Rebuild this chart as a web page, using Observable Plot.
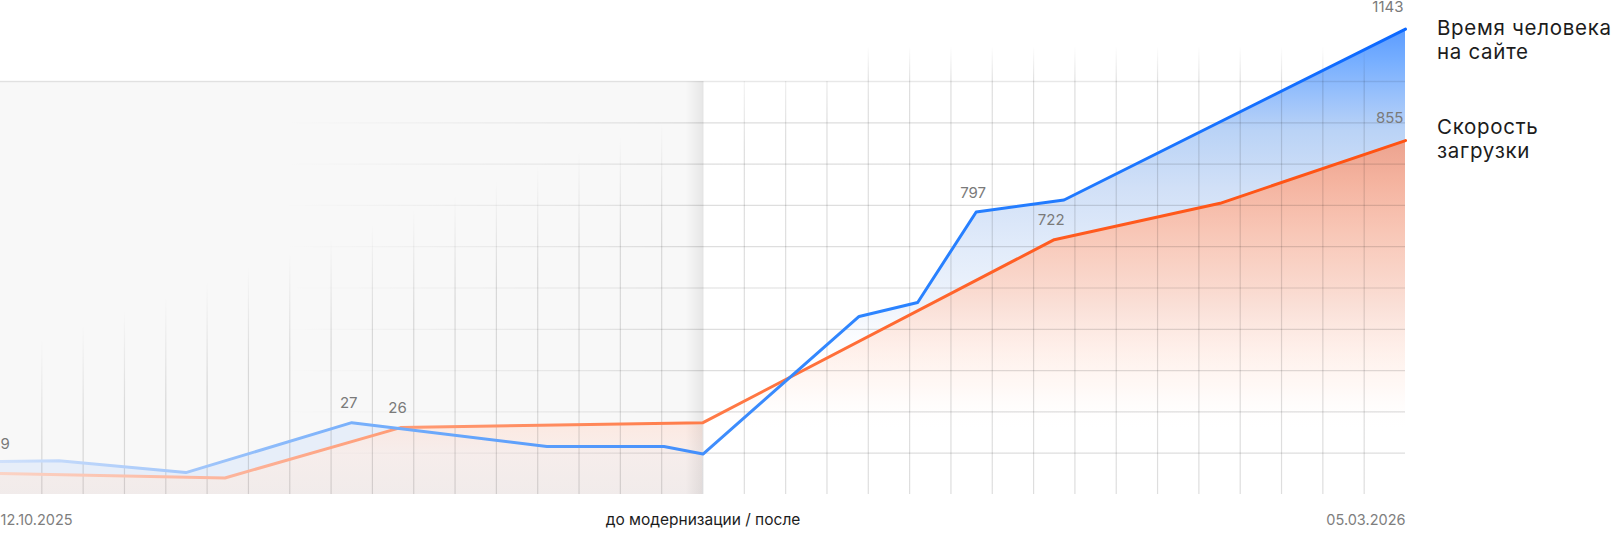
<!DOCTYPE html>
<html>
<head>
<meta charset="utf-8">
<script src="https://cdn.jsdelivr.net/npm/d3@7"></script>
<script src="https://cdn.jsdelivr.net/npm/@observablehq/plot@0.6"></script>
<style>
  body { margin: 0; background: #fff; }
  #wrap { position: relative; width: 1623px; height: 538px; font-family: Inter, "Noto Sans", sans-serif; }
  .legend { position: absolute; left: 1437px; font-size: 20.5px; letter-spacing: 0.7px; line-height: 24px; color: #1c1c1c; white-space: nowrap; }
</style>
</head>
<body>
<div id="wrap">
  <div class="legend" id="lg1" style="top:16px">Время человека<br>на сайте</div>
  <div class="legend" id="lg2" style="top:115px">Скорость<br>загрузки</div>
</div>
<script>
// ---- data ----
const blueDates  = ["2025-10-12","2025-10-18","2025-10-31","2025-11-17","2025-12-07","2025-12-19","2025-12-23","2026-01-08","2026-01-14","2026-01-20","2026-01-29","2026-03-05"];
const blueValues = [80, 82, 53, 174, 116, 116, 98, 431, 465, 684, 713, 1127];
const orangeDates  = ["2025-10-12","2025-11-04","2025-11-22","2025-12-23","2026-01-28","2026-02-14","2026-03-05"];
const orangeValues = [51, 40, 162, 174, 617, 705, 857];
const blueLabelIndex = [0, 3, 9, 11];
const blueLabelText  = ["9", "27", "797", "1143"];
const orangeLabelIndex = [2, 4, 6];
const orangeLabelText  = ["26", "722", "855"];
const xTickDates  = ["2025-10-12", "2025-12-23", "2026-03-05"];
const xTickLabels = ["12.10.2025", "до модернизации / после", "05.03.2026"];
const yTicks = [100, 200, 300, 400, 500, 600, 700, 800, 900, 1000];
const legendNames = ["Время человека на сайте", "Скорость загрузки"];

// ---- build ----
const parse = s => new Date(s + "T00:00:00Z");
const blue = blueDates.map((d, i) => ({date: parse(d), value: blueValues[i]}));
const orange = orangeDates.map((d, i) => ({date: parse(d), value: orangeValues[i]}));
const start = parse(xTickDates[0]), split = parse(xTickDates[1]), end = parse(xTickDates[2]);
const nCols = 34;
const gridIdx = d3.range(1, nCols);
const colDate = i => new Date(+start + (end - start) * i / nCols);
const gridLeft = gridIdx.filter(i => i < nCols / 2).map(colDate);
const gridRight = gridIdx.filter(i => i > nCols / 2).map(colDate);
const gridTop = gridIdx.filter(i => i >= 21).map(colDate);
const blueLeft = blue.filter(d => d.date <= split);
const orangeLeft = orange.filter(d => d.date <= split);
const labels = [
  ...blueLabelIndex.map((k, i) => ({...blue[k], text: blueLabelText[i], k, n: blue.length})),
  ...orangeLabelIndex.map((k, i) => ({...orange[k], text: orangeLabelText[i], k, n: orange.length}))
];
const shadowW = (end - start) / nCols * 0.42;
const panel = [{a: start, b: split}];
const shadow = [{a: new Date(+split - shadowW), b: split}];
const hRules = yTicks.filter(v => v < 1000).map(v => ({v, a: start, b: end}));
const topRule = [{v: 1000, a: start, b: end}];
const font = 'Inter, "Noto Sans", sans-serif';

const plot = Plot.plot({
  width: 1623, height: 538,
  marginLeft: 0, marginRight: 218, marginTop: 81, marginBottom: 44,
  x: {type: "utc", domain: [start, end], axis: null},
  y: {domain: [0, 1000], axis: null},
  style: {fontFamily: font, background: "transparent", overflow: "visible"},
  marks: [
    Plot.rect(panel, {x1: "a", x2: "b", y1: 0, y2: 1000, fill: "#f8f8f8"}),
    Plot.areaY(blue, {x: "date", y: "value", fill: "url(#blueFill)"}),
    Plot.areaY(blueLeft, {x: "date", y: "value", fill: "#dfe9f9", fillOpacity: 0.7}),
    Plot.areaY(orange, {x: "date", y: "value", fill: "url(#orangeFill)"}),
    Plot.areaY(orangeLeft, {x: "date", y: "value", fill: "url(#orangeLeftFill)"}),
    Plot.rect(shadow, {x1: "a", x2: "b", y1: 0, y2: 1000, fill: "url(#shadowFill)"}),
    Plot.ruleX(gridLeft, {y1: 0, y2: 1000, stroke: "url(#vGrid)", strokeWidth: 1.2}),
    Plot.ruleX(gridRight, {y1: 0, y2: 1000, stroke: "url(#vGridR)", strokeWidth: 1.2}),
    Plot.ruleX(gridTop, {y1: 1000, y2: 1085, stroke: "url(#vGridTop)", strokeWidth: 1.2}),
    Plot.ruleY(hRules, {y: "v", x1: "a", x2: "b", stroke: "url(#hGrid)", strokeWidth: 1.2}),
    Plot.ruleY(topRule, {y: "v", x1: "a", x2: "b", stroke: "#000", strokeOpacity: 0.09, strokeWidth: 1.5}),
    Plot.ruleX([split], {y1: 0, y2: 1000, stroke: "#000", strokeOpacity: 0.1, strokeWidth: 1}),
    Plot.line(orange, {x: "date", y: "value", stroke: "url(#orangeStroke)", strokeWidth: 3, strokeLinejoin: "round"}),
    Plot.line(blue, {x: "date", y: "value", stroke: "url(#blueStroke)", strokeWidth: 3, strokeLinejoin: "round"}),
    Plot.text(labels.filter(d => d.k === 0), {x: "date", y: "value", text: "text", textAnchor: "start", dy: -17, fill: "#7a7a7a", fontSize: 15}),
    Plot.text(labels.filter(d => d.k > 0 && d.k < d.n - 1), {x: "date", y: "value", text: "text", textAnchor: "middle", dx: -3, dy: -19, fill: "#7a7a7a", fontSize: 15}),
    Plot.text(labels.filter(d => d.k === d.n - 1), {x: "date", y: "value", text: "text", textAnchor: "end", dx: -2, dy: -22, fill: "#7a7a7a", fontSize: 15}),
    ...xTickDates.map((d, i) => Plot.text([{date: parse(d), t: xTickLabels[i]}], {
      x: "date", y: 0, text: "t", dy: 26, lineAnchor: "middle",
      textAnchor: i === 0 ? "start" : i === xTickDates.length - 1 ? "end" : "middle",
      fill: i === 1 ? "#1c1c1c" : "#7e7e7e", fontSize: i === 1 ? 15.5 : 14.5,
      letterSpacing: i === 1 ? "0.25px" : "0px"
    }))
  ]
});

// gradients derived from the scales
const X = plot.scale("x"), Y = plot.scale("y");
const xp = d => X.apply(d), yp = v => Y.apply(v);
const defs = d3.select(plot).insert("defs", ":first-child");
function grad(id, x1, y1, x2, y2, stops) {
  const g = defs.append("linearGradient").attr("id", id).attr("gradientUnits", "userSpaceOnUse")
    .attr("x1", x1).attr("y1", y1).attr("x2", x2).attr("y2", y2);
  for (const [o, c, a] of stops) g.append("stop").attr("offset", o).attr("stop-color", c).attr("stop-opacity", a);
}
function vStops(top, bottom, stops) { // stops given by value
  const y1 = yp(top), y2 = yp(bottom);
  return stops.map(([v, c, a]) => [Math.max(0, Math.min(1, (yp(v) - y1) / (y2 - y1))), c, a]);
}
grad("blueFill", 0, yp(1130), 0, yp(0), vStops(1130, 0, [
  [1130, "#5a9bff", 1], [1050, "#76aeff", 1], [960, "#9bc2fb", 1], [880, "#bad3f6", 1],
  [740, "#d1e0f7", 1], [600, "#e1ebfa", 1], [450, "#eff4fc", 1], [300, "#ffffff", 0]
]));
grad("orangeFill", 0, yp(870), 0, yp(0), vStops(870, 0, [
  [870, "#f09a80", 0.9], [760, "#fbab8f", 0.85], [640, "#ffbda4", 0.8], [500, "#ffd1bf", 0.75],
  [380, "#ffe3d8", 0.65], [260, "#fff0ea", 0.45], [150, "#ffffff", 0]
]));
grad("orangeLeftFill", 0, yp(180), 0, yp(0), vStops(180, 0, [
  [180, "#fde5dc", 0.85], [100, "#f9ede9", 0.85], [0, "#f2ebe9", 0.9]
]));
grad("blueStroke", xp(start), 0, xp(end), 0, [
  [0, "#cfe0fb", 1], [0.13, "#a5c8fa", 1], [0.25, "#78b0fb", 1], [0.5, "#418efc", 1], [0.62, "#2c84ff", 1], [1, "#0c68ff", 1]
]);
grad("orangeStroke", xp(start), 0, xp(end), 0, [
  [0, "#fbd3c5", 1], [0.16, "#fcb59d", 1], [0.28, "#ff9c76", 1], [0.5, "#ff7b48", 1], [0.75, "#ff5b20", 1], [1, "#ff5212", 1]
]);
// diagonal fade of the vertical grid (top-left hidden)
{
  const px = xp(start) + (xp(end) - xp(start)) * 0.356, py = yp(700);
  const nx = 0.33, ny = 0.944;
  grad("vGrid", px - 25 * nx, py - 25 * ny, px + 75 * nx, py + 75 * ny, [[0, "#000", 0], [1, "#000", 0.13]]);
  const qy = py - 50;
  grad("vGridR", px - 25 * nx, qy - 25 * ny, px + 75 * nx, qy + 75 * ny, [[0, "#000", 0], [1, "#000", 0.13]]);
}
grad("vGridTop", 0, yp(1085), 0, yp(1000), [[0, "#000", 0], [1, "#000", 0.12]]);
grad("hGrid", xp(start), 0, xp(end), 0, [[0, "#000", 0], [0.2, "#000", 0.0], [0.42, "#000", 0.08], [0.5, "#000", 0.13], [1, "#000", 0.13]]);
grad("shadowFill", xp(+split - shadowW), 0, xp(split), 0, [[0, "#000", 0], [1, "#000", 0.07]]);

plot.style.position = "absolute";
plot.style.left = "0"; plot.style.top = "0";
document.getElementById("wrap").prepend(plot);
</script>
</body>
</html>
